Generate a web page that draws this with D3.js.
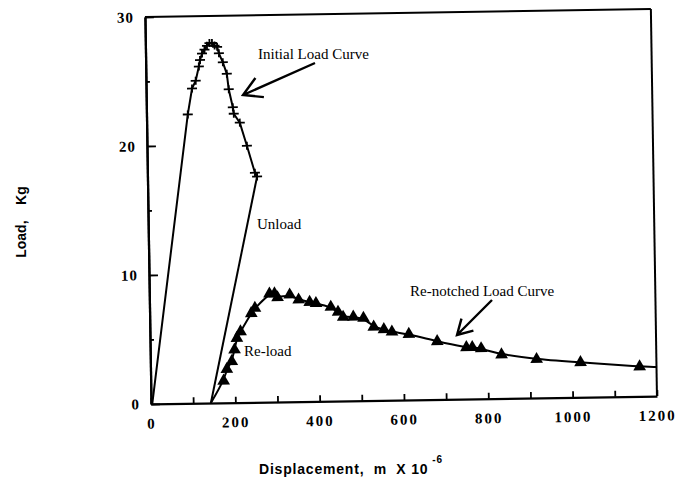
<!DOCTYPE html>
<html>
<head>
<meta charset="utf-8">
<script src="https://cdn.jsdelivr.net/npm/d3@7"></script>
<style>
body{margin:0;background:#fff}
</style>
</head>
<body>
<div class="chart"></div>
<script>
// displacement in m x 10^-6, load in kg
// initial load curve, the first point (origin) has no marker
const initialX = [3, 98, 109, 118, 126, 129, 134, 140, 146, 152, 158, 164, 170, 174, 183, 192, 196, 205, 207, 221, 237, 255, 260]
const initialY = [0, 22.4, 24.4, 25.0, 26.1, 26.6, 27.1, 27.4, 27.7, 27.9, 27.9, 27.7, 27.6, 27.1, 26.4, 25.5, 24.3, 22.9, 22.4, 21.7, 19.9, 17.8, 17.5]
// unload line
const unloadX = [260, 142]
const unloadY = [17.5, 0]
// re-load / re-notched curve, first and last points have no marker
const reloadX = [142, 173, 181, 193, 200, 206, 215, 241, 250, 285, 297, 304, 333, 354, 380, 395, 430, 447, 459, 483, 507, 531, 555, 574, 614, 681, 750, 764, 785, 833, 916, 1020, 1160, 1200]
const reloadY = [0, 1.7, 2.6, 3.2, 4.1, 5.0, 5.5, 6.9, 7.3, 8.4, 8.4, 8.1, 8.3, 7.9, 7.7, 7.6, 7.3, 6.9, 6.5, 6.5, 6.4, 5.7, 5.5, 5.3, 5.1, 4.5, 4.0, 4.0, 3.9, 3.4, 3.0, 2.7, 2.3, 2.25]
// ticks
const xTicks = [0, 100, 200, 300, 400, 500, 600, 700, 800, 900, 1000, 1100, 1200]
const xLabels = [0, 200, 400, 600, 800, 1000, 1200]
const yMajor = [0, 10, 20, 30]
const yMinor = [5, 15, 25]

const svg = d3.select(".chart").append("svg").attr("width", 679).attr("height", 481)
const x = d3.scaleLinear().domain([0, 1200]).range([148, 654])
const y = d3.scaleLinear().domain([0, 30]).range([400, 13])

// the scan is tilted a little, so the plot is too
const plot = svg.append("g").attr("transform", "rotate(-0.9,403,210)")

const serif = "'Liberation Serif','Times New Roman',serif"
const sans = "'Liberation Sans',Arial,Helvetica,sans-serif"

const xAxis = plot.append("g").attr("transform", `translate(0,${y(0)})`)
  .call(d3.axisBottom(x).tickValues(xTicks).tickSizeInner(-6).tickSizeOuter(0).tickPadding(14)
    .tickFormat(d => xLabels.includes(d) ? d : ""))
const yAxis = plot.append("g").attr("transform", `translate(${x(0)},0)`)
  .call(d3.axisLeft(y).tickValues(yMajor).tickSizeInner(-9).tickSizeOuter(0).tickPadding(11))
const yAxisMinor = plot.append("g").attr("transform", `translate(${x(0)},0)`)
  .call(d3.axisLeft(y).tickValues(yMinor).tickSizeInner(-4).tickSizeOuter(0).tickFormat(""))

plot.selectAll(".domain").attr("stroke", "#000").attr("stroke-width", 2.2)
plot.selectAll(".tick line").attr("stroke", "#000").attr("stroke-width", 1.8)
plot.selectAll(".tick text").attr("fill", "#000").attr("font-family", serif)
  .attr("font-weight", "bold").attr("font-size", 15)
xAxis.selectAll("text").attr("letter-spacing", 2)
yAxis.selectAll("text").attr("letter-spacing", 1)

// top and right frame
plot.append("line").attr("x1", x(0)).attr("x2", x(1200)).attr("y1", y(30)).attr("y2", y(30))
  .attr("stroke", "#000").attr("stroke-width", 2)
plot.append("line").attr("x1", x(1200)).attr("x2", x(1200)).attr("y1", y(30)).attr("y2", y(0))
  .attr("stroke", "#000").attr("stroke-width", 2)

const initial = initialX.map((d, i) => ({x: d, y: initialY[i]}))
const unload = unloadX.map((d, i) => ({x: d, y: unloadY[i]}))
const reload = reloadX.map((d, i) => ({x: d, y: reloadY[i]}))

const line = d3.line().x(d => x(d.x)).y(d => y(d.y))
plot.append("path").datum(initial).attr("d", line).attr("fill", "none").attr("stroke", "#000").attr("stroke-width", 2)
plot.append("path").datum(unload).attr("d", line).attr("fill", "none").attr("stroke", "#000").attr("stroke-width", 2)
plot.append("path").datum(reload).attr("d", line.curve(d3.curveBasis)).attr("fill", "none")
  .attr("stroke", "#000").attr("stroke-width", 2)

// + markers
plot.selectAll(".plus").data(initial.slice(1)).enter().append("path").attr("class", "plus")
  .attr("transform", d => `translate(${x(d.x)},${y(d.y)})`)
  .attr("d", "M-5,0H5M0,-4V4").attr("stroke", "#000").attr("stroke-width", 1.8)

// triangle markers
plot.selectAll(".tri").data(reload.slice(1, -1)).enter().append("path").attr("class", "tri")
  .attr("transform", d => `translate(${x(d.x)},${y(d.y)})`)
  .attr("d", d3.symbol(d3.symbolTriangle, 70)).attr("fill", "#000")

// annotations
const notes = [
  {text: "Initial Load Curve", x: 258, y: 59},
  {text: "Unload", x: 257, y: 229},
  {text: "Re-load", x: 244, y: 356},
  {text: "Re-notched Load Curve", x: 410, y: 296}
]
svg.selectAll(".note").data(notes).enter().append("text").attr("class", "note")
  .attr("x", d => d.x).attr("y", d => d.y).text(d => d.text)
  .attr("font-family", serif).attr("font-size", 15).attr("fill", "#000")

const arrows = [
  {x1: 315, y1: 63, x2: 243, y2: 95, head: 21},
  {x1: 492, y1: 300, x2: 457, y2: 335, head: 17}
]
arrows.forEach(a => {
  const ang = Math.atan2(a.y1 - a.y2, a.x1 - a.x2)
  const w1 = [a.x2 + a.head * Math.cos(ang + 0.52), a.y2 + a.head * Math.sin(ang + 0.52)]
  const w2 = [a.x2 + a.head * Math.cos(ang - 0.52), a.y2 + a.head * Math.sin(ang - 0.52)]
  svg.append("path")
    .attr("d", `M${a.x1},${a.y1}L${a.x2},${a.y2}M${w1}L${a.x2},${a.y2}L${w2}`)
    .attr("fill", "none").attr("stroke", "#000").attr("stroke-width", 2.4)
})

// axis titles
svg.append("text").attr("transform", "translate(26,222) rotate(-90)").attr("text-anchor", "middle")
  .style("white-space", "pre").attr("font-family", sans).attr("font-weight", "bold").attr("font-size", 14)
  .text("Load,    Kg")
const xt = svg.append("text").attr("x", 259).attr("y", 474).style("white-space", "pre")
  .attr("font-family", sans).attr("font-weight", "bold").attr("font-size", 14).attr("letter-spacing", 0.8)
xt.append("tspan").text("Displacement,  m  X 10")
xt.append("tspan").attr("dx", 4).attr("dy", -11).attr("font-size", 10).text("-6")
</script>
</body>
</html>
